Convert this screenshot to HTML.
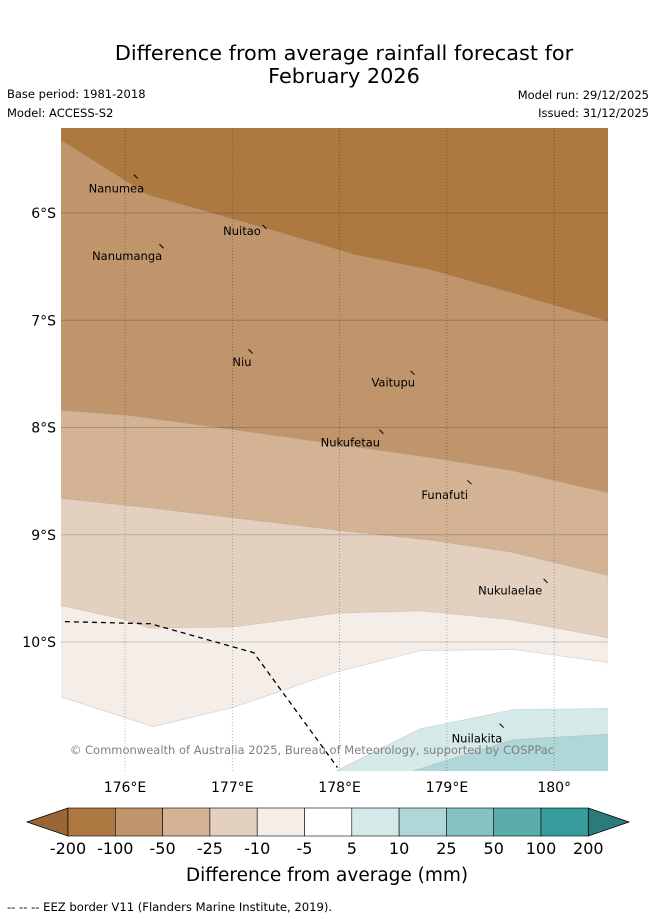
<!DOCTYPE html>
<html><head><meta charset="utf-8"><style>
html,body{margin:0;padding:0;background:#fff;width:655px;height:919px;overflow:hidden}
text{font-family:"DejaVu Sans","Liberation Sans",sans-serif}
</style></head><body>
<svg id="fig" width="655" height="919" viewBox="0 0 655 919" xmlns="http://www.w3.org/2000/svg">
<text x="344" y="60" font-size="20.8" text-anchor="middle">Difference from average rainfall forecast for</text>
<text x="344" y="83" font-size="20.8" text-anchor="middle">February 2026</text>
<text x="7" y="98" font-size="11.5">Base period: 1981-2018</text>
<text x="7" y="117" font-size="11.5">Model: ACCESS-S2</text>
<text x="649" y="99" font-size="11.5" text-anchor="end">Model run: 29/12/2025</text>
<text x="649" y="117" font-size="11.5" text-anchor="end">Issued: 31/12/2025</text>
<defs><clipPath id="mapclip"><rect x="61" y="128" width="547" height="643"/></clipPath></defs>
<g id="map" clip-path="url(#mapclip)"></g>
<g id="axes"></g>
<g id="cbar"></g>
<text x="327" y="881" font-size="18.5" text-anchor="middle">Difference from average (mm)</text>
<text x="7" y="911" font-size="11.6">--  --  -- EEZ border V11 (Flanders Marine Institute, 2019).</text>
</svg>
<script>
// ---- data ----
const lonTicks = [176,177,178,179,180];
const lonTickLabels = ["176°E","177°E","178°E","179°E","180°"];
const latTicks = [-6,-7,-8,-9,-10];
const latTickLabels = ["6°S","7°S","8°S","9°S","10°S"];
const levels = ["-200","-100","-50","-25","-10","-5","5","10","25","50","100","200"];
const levelColors = ["#ad7941","#c0956b","#d3b394","#e3d0bf","#f4ede8","#ffffff","#d5e9e8","#afd7d8","#87c2c2","#5bacab","#379c9b"];
const b1Lon=[175.40,176.21,176.70,177.44,178.14,178.84,179.59,180.50];
const b1Lat=[-5.32,-5.83,-5.97,-6.18,-6.39,-6.53,-6.74,-7.01];
const b2Lon=[175.40,176.05,177.00,178.00,178.84,179.59,180.50];
const b2Lat=[-7.84,-7.89,-8.02,-8.16,-8.28,-8.40,-8.61];
const b3Lon=[175.40,176.23,177.16,178.00,178.84,179.59,180.50];
const b3Lat=[-8.66,-8.75,-8.86,-8.96,-9.05,-9.16,-9.38];
const b4Lon=[175.40,176.00,176.23,177.00,178.00,178.75,179.59,180.50];
const b4Lat=[-9.66,-9.79,-9.87,-9.86,-9.73,-9.71,-9.79,-9.96];
const b5Lon=[175.40,176.26,177.01,177.97,178.75,179.62,180.50];
const b5Lat=[-10.51,-10.79,-10.61,-10.28,-10.08,-10.07,-10.19];
const b6Lon=[177.97,178.75,179.62,180.50];
const b6Lat=[-11.20,-10.81,-10.63,-10.62];
const b7Lon=[178.69,179.62,180.50];
const b7Lat=[-11.20,-10.91,-10.86];
const eezLon=[175.44,176.24,177.20,177.98];
const eezLat=[-9.81,-9.83,-10.10,-11.17];
const islandNames=["Nanumea","Nuitao","Nanumanga","Niu","Vaitupu","Nukufetau","Funafuti","Nukulaelae","Nuilakita"];
const islandLon=[176.10,177.30,176.34,177.17,178.68,178.39,179.21,179.92,179.51];
const islandLat=[-5.66,-6.13,-6.31,-7.29,-7.49,-8.04,-8.51,-9.43,-10.78];
const labelLon=[175.92,177.09,176.02,177.09,178.50,178.10,178.98,179.59,179.28];
const labelLat=[-5.77,-6.17,-6.40,-7.39,-7.58,-8.14,-8.63,-9.52,-10.90];

// ---- axes functions ----
const X = lon => 125 + (lon-176)*107.3;
const Y = lat => 213 + (-6-lat)*107.25;
const NS="http://www.w3.org/2000/svg";
function mk(tag, attrs, parent){const e=document.createElementNS(NS,tag);for(const k in attrs)e.setAttribute(k,attrs[k]);parent.appendChild(e);return e;}
const map=document.getElementById('map'), axes=document.getElementById('axes'), cbar=document.getElementById('cbar');

let bg=mk('rect',{x:61,y:128,width:547,height:643,fill:levelColors[0]},map);


const bounds=[[b1Lon,b1Lat,1],[b2Lon,b2Lat,2],[b3Lon,b3Lat,3],[b4Lon,b4Lat,4],[b5Lon,b5Lat,5],[b6Lon,b6Lat,6],[b7Lon,b7Lat,7]];
bounds.forEach(([lo,la,ci])=>{
  let pts=lo.map((v,i)=>X(v).toFixed(1)+','+Y(la[i]).toFixed(1));
  pts.push('620,790','50,790');
  if(lo[0]>176){pts[pts.length-1]=X(lo[0]).toFixed(1)+',790';}
  const p=mk('polygon',{points:pts.join(' '),fill:levelColors[ci],stroke:'rgba(160,160,160,0.35)','stroke-width':0.8},map);
  
  
});
// grid
lonTicks.forEach((v,i)=>{
  const l=mk('line',{x1:X(v),x2:X(v),y1:128,y2:771,stroke:'rgba(0,0,0,0.35)','stroke-width':0.8,'stroke-dasharray':'1,2'},map);
  
  
  const t=mk('text',{x:X(v),y:792,'font-size':14,'text-anchor':'middle'},axes);
  t.textContent=lonTickLabels[i];
  
  
});
latTicks.forEach((v,i)=>{
  const l=mk('line',{x1:61,x2:608,y1:Y(v),y2:Y(v),stroke:'rgba(0,0,0,0.18)','stroke-width':1},map);
  
  
  const t=mk('text',{x:56,y:Y(v)+5,'font-size':14,'text-anchor':'end'},axes);
  t.textContent=latTickLabels[i];
  
  
});
// EEZ
const eez=mk('polyline',{points:eezLon.map((v,i)=>X(v)+','+Y(eezLat[i])).join(' '),fill:'none',stroke:'#000','stroke-width':1.3,'stroke-dasharray':'5,4'},map);


// islands
islandNames.forEach((n,i)=>{
  const m=mk('line',{x1:X(islandLon[i])-2,y1:Y(islandLat[i])-2,x2:X(islandLon[i])+2,y2:Y(islandLat[i])+2,stroke:'#000','stroke-width':1},map);
  
  
  const t=mk('text',{x:X(labelLon[i]),y:Y(labelLat[i])+4,'font-size':11.5,'text-anchor':'middle'},map);
  t.textContent=n;
  
  
});
const cp=mk('text',{x:312,y:754,'font-size':11.5,'text-anchor':'middle',fill:'#808080'},map);
cp.textContent='© Commonwealth of Australia 2025, Bureau of Meteorology, supported by COSPPac';


// colorbar
const cx0=68, cw=47.3, cy=808, ch=28;
const la=mk('polygon',{points:`${cx0},${cy} ${cx0},${cy+ch} 27,${cy+ch/2}`,fill:'#9b6635',stroke:'#000','stroke-width':0.8},cbar);


levelColors.forEach((c,i)=>{
  const r=mk('rect',{x:cx0+i*cw,y:cy,width:cw,height:ch,fill:c,stroke:'#000','stroke-width':0.6},cbar);
  
  
});
const xe=cx0+levelColors.length*cw;
const ra=mk('polygon',{points:`${xe},${cy} ${xe},${cy+ch} 629,${cy+ch/2}`,fill:'#2b7b7b',stroke:'#000','stroke-width':0.8},cbar);


levels.forEach((l,i)=>{
  const t=mk('text',{x:cx0+i*cw,y:854,'font-size':16,'text-anchor':'middle'},cbar);
  t.textContent=l;
  
  
});
</script>
</body></html>
